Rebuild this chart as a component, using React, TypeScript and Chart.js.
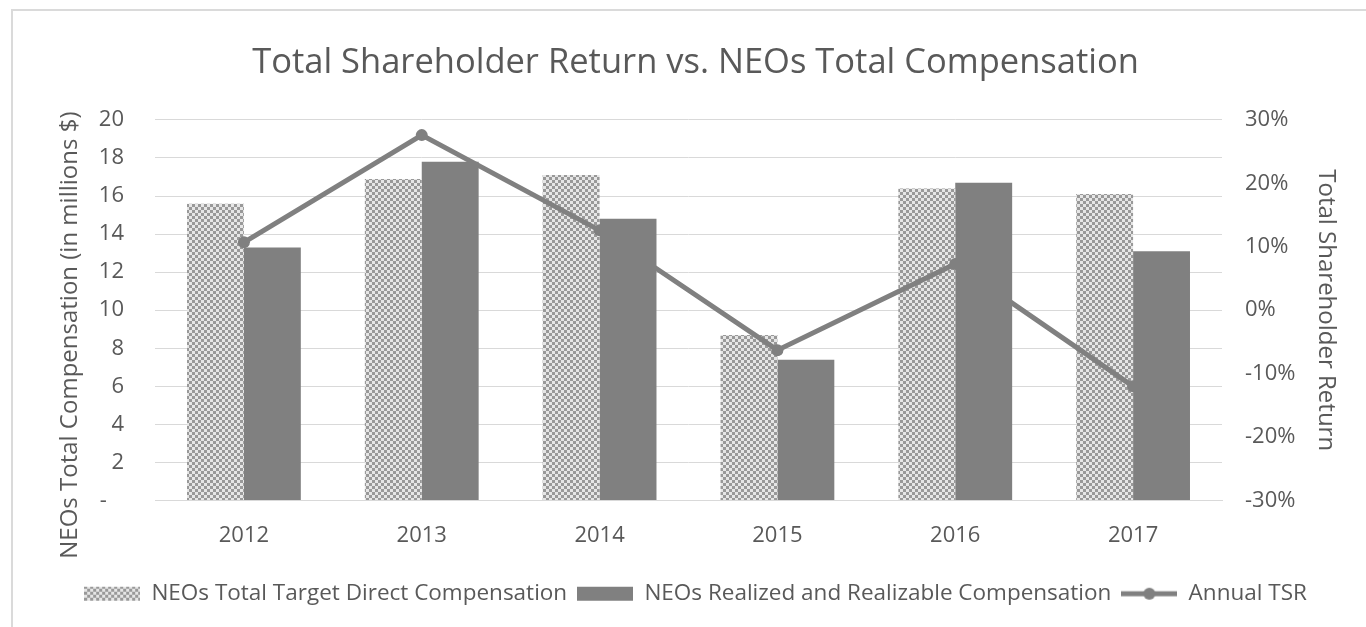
import React, { useEffect, useRef } from "react";
import { Chart, registerables } from "chart.js";

Chart.register(...registerables);

const categories = ["2012", "2013", "2014", "2015", "2016", "2017"];
const targetComp = [15.6, 16.9, 17.1, 8.7, 16.4, 16.1];
const realizedComp = [13.3, 17.8, 14.8, 7.4, 16.7, 13.1];
const annualTSR = [0.107, 0.276, 0.126, -0.063, 0.073, -0.12];
const seriesNames = [
  "NEOs Total Target Direct Compensation",
  "NEOs Realized and Realizable Compensation",
  "Annual TSR",
];
const chartTitle = "Total Shareholder Return vs. NEOs Total Compensation";
const leftAxisTitle = "NEOs Total Compensation (in millions $)";
const rightAxisTitle = "Total Shareholder Return";

const FONT = "'Open Sans', sans-serif";
const TEXT = "#595959";
const GRID = "#d9d9d9";
const DARK = "#808080";

function makeChecker(): CanvasPattern | string {
  const c = document.createElement("canvas");
  c.width = 6;
  c.height = 6;
  const g = c.getContext("2d");
  if (!g) return "#bbbbbb";
  g.fillStyle = "#e6e6e6";
  g.fillRect(0, 0, 6, 6);
  g.fillStyle = "#999999";
  g.fillRect(0, 0, 3, 3);
  g.fillRect(3, 3, 3, 3);
  const p = g.createPattern(c, "repeat");
  return p || "#bbbbbb";
}

function legendImage(kind: number, pattern: CanvasPattern | string): HTMLCanvasElement {
  const c = document.createElement("canvas");
  c.width = 56;
  c.height = 16;
  const g = c.getContext("2d")!;
  if (kind === 0) {
    g.fillStyle = pattern as any;
    g.fillRect(0, 1, 56, 14);
  } else if (kind === 1) {
    g.fillStyle = DARK;
    g.fillRect(0, 1, 56, 14);
  } else {
    g.strokeStyle = DARK;
    g.lineWidth = 5;
    g.beginPath();
    g.moveTo(0, 8);
    g.lineTo(56, 8);
    g.stroke();
    g.fillStyle = DARK;
    g.beginPath();
    g.arc(28, 8, 6, 0, Math.PI * 2);
    g.fill();
  }
  return c;
}

export default function App() {
  const ref = useRef<HTMLCanvasElement | null>(null);

  useEffect(() => {
    if (!ref.current) return;
    const checker = makeChecker();
    const images = [0, 1, 2].map((k) => legendImage(k, checker));

    const chart = new Chart(ref.current, {
      type: "bar",
      data: {
        labels: categories,
        datasets: [
          {
            type: "bar",
            label: seriesNames[0],
            data: targetComp,
            backgroundColor: checker as any,
            borderWidth: 0,
            yAxisID: "y",
            order: 1,
            barPercentage: 1,
            categoryPercentage: 0.64,
          },
          {
            type: "bar",
            label: seriesNames[1],
            data: realizedComp,
            backgroundColor: DARK,
            borderWidth: 0,
            yAxisID: "y",
            order: 2,
            barPercentage: 1,
            categoryPercentage: 0.64,
          },
          {
            type: "line",
            label: seriesNames[2],
            data: annualTSR,
            borderColor: DARK,
            backgroundColor: DARK,
            borderWidth: 5,
            pointRadius: 6,
            pointBackgroundColor: DARK,
            pointBorderWidth: 0,
            tension: 0,
            yAxisID: "y1",
            order: 0,
          } as any,
        ],
      },
      options: {
        responsive: true,
        maintainAspectRatio: false,
        animation: false,
        layout: { padding: { left: 25, right: 0, top: 0, bottom: 12 } },
        plugins: {
          tooltip: { enabled: false },
          title: {
            display: true,
            text: chartTitle,
            color: TEXT,
            font: { family: FONT, size: 34.5, weight: "normal" },
            padding: { top: 42, bottom: 36.5 },
          },
          legend: {
            position: "bottom",
            labels: {
              usePointStyle: true,
              pointStyleWidth: 56,
              color: TEXT,
              font: { family: FONT, size: 22.5 },
              padding: 10,
              generateLabels: () =>
                seriesNames.map((name, i) => ({
                  text: name,
                  pointStyle: images[i] as any,
                  fillStyle: DARK,
                  strokeStyle: DARK,
                  lineWidth: 0,
                  hidden: false,
                  datasetIndex: i,
                  fontColor: TEXT,
                })),
            },
          },
        },
        scales: {
          x: {
            grid: { display: false, drawTicks: false },
            border: { display: true, color: GRID, width: 1 },
            ticks: {
              color: TEXT,
              font: { family: FONT, size: 22 },
              padding: 22,
            },
            afterFit: (s: any) => {
              s.height = 72;
            },
          },
          y: {
            position: "left",
            min: 0,
            max: 20,
            grid: { color: GRID, drawTicks: false },
            border: { display: false },
            ticks: {
              stepSize: 2,
              color: TEXT,
              font: { family: FONT, size: 22 },
              padding: 31,
              callback: (v: any) => (Number(v) === 0 ? "-   " : String(v)),
            },
            title: {
              display: true,
              text: leftAxisTitle + "        ",
              color: TEXT,
              font: { family: FONT, size: 24 },
              padding: { top: 31, bottom: 0 },
            },
            afterFit: (s: any) => {
              s.width = 130;
            },
          },
          y1: {
            position: "right",
            min: -0.3,
            max: 0.3,
            grid: { display: false, drawTicks: false },
            border: { display: false },
            ticks: {
              stepSize: 0.1,
              color: TEXT,
              font: { family: FONT, size: 22 },
              padding: 23,
              callback: (v: any) => Math.round(Number(v) * 100) + "%",
            },
            title: {
              display: true,
              text: rightAxisTitle,
              color: TEXT,
              font: { family: FONT, size: 24 },
              padding: { top: 26, bottom: 0 },
            },
            afterFit: (s: any) => {
              s.width = 144;
            },
          },
        },
      },
    });
    return () => chart.destroy();
  }, []);

  return (
    <div
      style={{
        position: "fixed",
        left: 0,
        top: 0,
        width: 1366,
        height: 627,
        background: "#ffffff",
        overflow: "hidden",
      }}
    >
      <div
        style={{
          position: "absolute",
          left: 11,
          top: 9,
          width: 1400,
          height: 700,
          borderLeft: "2px solid #dadada",
          borderTop: "2px solid #dadada",
        }}
      />
      <div style={{ position: "absolute", left: 0, top: 0, width: 1366, height: 627 }}>
        <canvas ref={ref} />
      </div>
    </div>
  );
}
